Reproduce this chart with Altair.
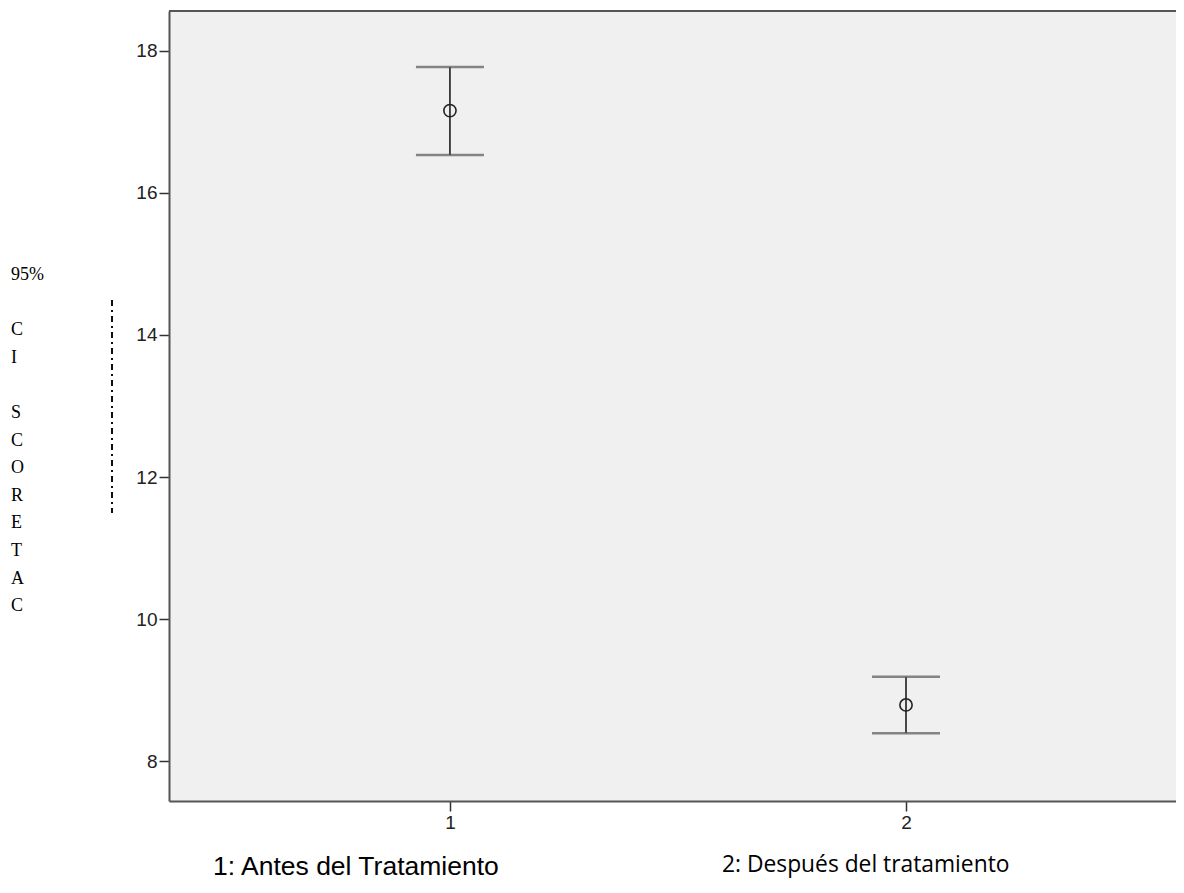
import altair as alt
import pandas as pd

# ---- data ----
groups = [1, 2]
means = [17.16, 8.79]
lower_ci = [16.535, 8.39]
upper_ci = [17.775, 9.187]

x_ticks = [1, 2]
y_ticks = [8, 10, 12, 14, 16, 18]

y_title_lines = ["95%", "", "C", "I", "", "S", "C", "O", "R", "E", "T", "A", "C"]
group_labels = ["1: Antes del Tratamiento", "2: Después del tratamiento"]

W, H = 1007, 790

df = pd.DataFrame({"g": groups, "mean": means, "lo": lower_ci, "hi": upper_ci})

xscale = alt.Scale(domain=[0.384, 2.592], nice=False, zero=False)
yscale = alt.Scale(domain=[7.437, 18.563], nice=False, zero=False)

axis_common = dict(
    grid=False,
    tickColor="#333333",
    tickSize=10,
    tickWidth=1.5,
    labelFont="Liberation Sans",
    labelFontSize=19,
    labelColor="#222222",
    labelPadding=2,
    domainColor="#555555",
    domainWidth=2,
    format="d",
)

x_enc = alt.X("g:Q", scale=xscale, title=None,
              axis=alt.Axis(values=x_ticks, **axis_common))

base = alt.Chart(df)

whisker = base.mark_rule(color="#111111", strokeWidth=1.5).encode(
    x=x_enc,
    y=alt.Y("lo:Q", scale=yscale, title=None,
            axis=alt.Axis(values=y_ticks, **axis_common)),
    y2="hi:Q",
)

cap_lo = base.mark_tick(orient="horizontal", size=68, thickness=2.5,
                        color="#555555").encode(
    x=alt.X("g:Q", scale=xscale), y=alt.Y("lo:Q", scale=yscale))
cap_hi = base.mark_tick(orient="horizontal", size=68, thickness=2.5,
                        color="#555555").encode(
    x=alt.X("g:Q", scale=xscale), y=alt.Y("hi:Q", scale=yscale))

points = base.mark_point(shape="circle", size=150, filled=False,
                         color="#222222", strokeWidth=1.6, opacity=1).encode(
    x=alt.X("g:Q", scale=xscale), y=alt.Y("mean:Q", scale=yscale))

top_border = alt.Chart(df).mark_rule(color="#555555", strokeWidth=2).encode(
    x=alt.value(0), x2=alt.value(W), y=alt.value(0))

title_df = pd.DataFrame({"t": y_title_lines, "i": list(range(len(y_title_lines)))})
ytitle = alt.Chart(title_df).transform_calculate(
    py="269 + datum.i * 27.6"
).mark_text(
    font="Liberation Serif", fontSize=18, align="left", baseline="alphabetic",
    color="#000000",
).encode(text="t:N", x=alt.value(-158), y=alt.Y("py:Q", scale=None))

dash_line = alt.Chart(df).mark_rule(color="#000000", strokeWidth=1.5,
                                    strokeDash=[6, 4, 2, 4]).encode(
    x=alt.value(-57), y=alt.value(289), y2=alt.value(502))

lab1 = alt.Chart(pd.DataFrame({"t": [group_labels[0]]})).mark_text(
    font="Liberation Sans", fontSize=26.5, align="left", baseline="alphabetic",
    color="#000000").encode(text="t:N", x=alt.value(44), y=alt.value(864))

lab2 = alt.Chart(pd.DataFrame({"t": [group_labels[1]]})).mark_text(
    font="Open Sans", fontSize=22.8, align="left", baseline="alphabetic",
    color="#000000").encode(text="t:N", x=alt.value(553), y=alt.value(861))

chart = alt.layer(
    whisker, cap_lo, cap_hi, points, top_border, ytitle, dash_line, lab1, lab2
).properties(
    width=W, height=H,
    autosize=alt.AutoSizeParams(type="none"),
    padding={"left": 161, "top": 3, "right": 0, "bottom": 84},
    background="white",
).configure_view(
    fill="#f0f0f0", stroke="transparent"
)

chart.save("out.html", embed_options={"renderer": "svg", "actions": False})
